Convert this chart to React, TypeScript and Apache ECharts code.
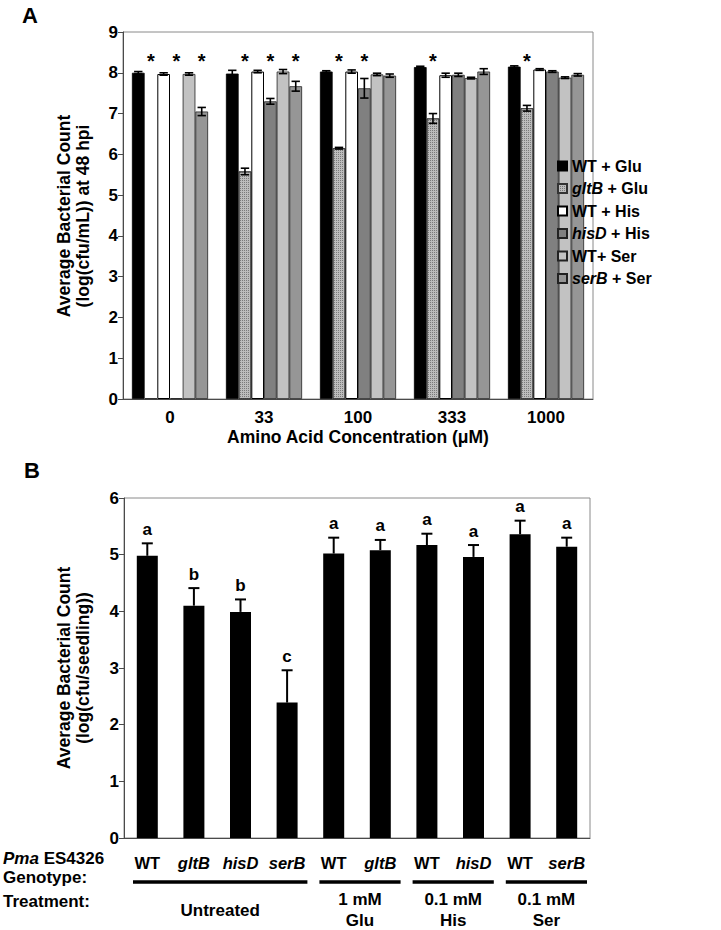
import React, { useEffect, useRef } from "react";
import * as echarts from "echarts";

const FONT = '"Liberation Sans", Arial, Helvetica, sans-serif';

// ---------- Panel A data ----------
const concentrations = ["0", "33", "100", "333", "1000"];
const seriesNamesA = ["WT + Glu", "gltB + Glu", "WT + His", "hisD + His", "WT+ Ser", "serB + Ser"];
const italicGenes = ["gltB", "hisD", "serB"];
const wtGlu = [8.0, 7.98, 8.03, 8.14, 8.15];
const gltBGlu = [0.02, 5.58, 6.15, 6.88, 7.13];
const wtHis = [7.97, 8.03, 8.03, 7.94, 8.08];
const hisDHis = [0.02, 7.3, 7.62, 7.95, 8.03];
const wtSer = [7.97, 8.03, 7.96, 7.87, 7.88];
const serBSer = [7.05, 7.67, 7.93, 8.03, 7.95];
const errWtGlu = [0.03, 0.08, 0.02, 0.02, 0.02];
const errGltBGlu = [0, 0.08, 0.02, 0.12, 0.07];
const errWtHis = [0.03, 0.03, 0.04, 0.05, 0.02];
const errHisDHis = [0, 0.07, 0.24, 0.04, 0.02];
const errWtSer = [0.03, 0.05, 0.03, 0.02, 0.02];
const errSerBSer = [0.1, 0.12, 0.04, 0.07, 0.03];
const sigWtGlu = [0, 0, 0, 0, 0];
const sigGltBGlu = [1, 1, 1, 1, 1];
const sigWtHis = [0, 0, 0, 0, 0];
const sigHisDHis = [1, 1, 1, 0, 0];
const sigWtSer = [0, 0, 0, 0, 0];
const sigSerBSer = [1, 1, 0, 0, 0];
const yTicksA = { min: 0, max: 9, interval: 1 };
const starLevel = 8.3;

// ---------- Panel B data ----------
const genotypes = ["WT", "gltB", "hisD", "serB", "WT", "gltB", "WT", "hisD", "WT", "serB"];
const countsB = [4.98, 4.1, 3.99, 2.39, 5.02, 5.08, 5.17, 4.96, 5.36, 5.14];
const errB = [0.22, 0.31, 0.22, 0.57, 0.28, 0.18, 0.2, 0.21, 0.24, 0.16];
const lettersB = ["a", "b", "b", "c", "a", "a", "a", "a", "a", "a"];
const treatmentLabels = ["Untreated", "1 mM\nGlu", "0.1 mM\nHis", "0.1 mM\nSer"];
const treatmentStart = [0, 4, 6, 8];
const treatmentEnd = [3, 5, 7, 9];
const yTicksB = { min: 0, max: 6, interval: 1 };

const valuesA = [wtGlu, gltBGlu, wtHis, hisDHis, wtSer, serBSer];
const errorsA = [errWtGlu, errGltBGlu, errWtHis, errHisDHis, errWtSer, errSerBSer];
const sigsA = [sigWtGlu, sigGltBGlu, sigWtHis, sigHisDHis, sigWtSer, sigSerBSer];

const GAP_A = 0.19;

const styleA: any[] = [
  { color: "#000000", borderColor: "#000000", borderWidth: 0.8 },
  {
    color: "#bcbcbc",
    borderColor: "#333333",
    borderWidth: 0.8,
    decal: {
      symbol: "rect",
      symbolSize: 1,
      dashArrayX: [1, 1],
      dashArrayY: [1, 1],
      color: "#7a7a7a",
      backgroundColor: "#cfcfcf",
    },
  },
  { color: "#ffffff", borderColor: "#000000", borderWidth: 1 },
  { color: "#808080", borderColor: "#222222", borderWidth: 0.8 },
  { color: "#c2c2c2", borderColor: "#222222", borderWidth: 0.8 },
  { color: "#969696", borderColor: "#222222", borderWidth: 0.8 },
];

function geneRich(name: string): string {
  for (const g of italicGenes) {
    if (name.startsWith(g)) return "{i|" + g + "}" + name.slice(g.length);
  }
  return name;
}

export default function App() {
  const ref = useRef<HTMLDivElement>(null);

  useEffect(() => {
    if (!ref.current) return;
    const chart = echarts.init(ref.current, undefined, { renderer: "svg" });

    const recordsA: any[] = [];
    valuesA.forEach((vals, s) => {
      vals.forEach((v, c) => {
        recordsA.push({ s, c, v, e: errorsA[s][c], sig: sigsA[s][c] });
      });
    });

    const axisLineStyle = { color: "#4a4a4a", width: 1 };
    const tickLabel = { fontSize: 17, fontWeight: "bold", color: "#000", fontFamily: FONT };

    const barSeriesA = seriesNamesA.map((name, s) => ({
      name,
      type: "bar",
      xAxisIndex: 0,
      yAxisIndex: 0,
      data: valuesA[s],
      barGap: "0%",
      barCategoryGap: GAP_A * 100 + "%",
      itemStyle: styleA[s],
      emphasis: { disabled: true },
    }));

    const option: any = {
      animation: false,
      backgroundColor: "#ffffff",
      textStyle: { fontFamily: FONT },
      grid: [
        { left: 123, top: 32, width: 470, height: 367, show: true, borderColor: "#8a8a8a", borderWidth: 1, backgroundColor: "transparent" },
        { left: 124, top: 498, width: 466, height: 340, show: true, borderColor: "#8a8a8a", borderWidth: 1, backgroundColor: "transparent" },
      ],
      legend: {
        data: seriesNamesA,
        orient: "vertical",
        left: 552,
        top: 153,
        itemWidth: 9,
        itemHeight: 9,
        itemGap: 6.5,
        icon: "rect",
        selectedMode: false,
        formatter: (n: string) => geneRich(n),
        textStyle: {
          fontSize: 16,
          fontWeight: "bold",
          color: "#000",
          fontFamily: FONT,
          rich: { i: { fontSize: 16, fontWeight: "bold", fontStyle: "italic", color: "#000", fontFamily: FONT } },
        },
      },
      xAxis: [
        {
          type: "category",
          gridIndex: 0,
          data: concentrations,
          axisLine: { lineStyle: axisLineStyle },
          axisTick: { length: 5, lineStyle: axisLineStyle },
          axisLabel: { ...tickLabel, margin: 10 },
          name: "Amino Acid Concentration (μM)",
          nameLocation: "middle",
          nameGap: 29,
          nameTextStyle: { fontSize: 17.5, fontWeight: "bold", color: "#000", fontFamily: FONT },
        },
        {
          type: "category",
          gridIndex: 1,
          data: genotypes,
          axisLine: { lineStyle: axisLineStyle },
          axisTick: { length: 5, lineStyle: axisLineStyle },
          axisLabel: {
            ...tickLabel,
            margin: 16,
            interval: 0,
            formatter: (v: string) => (italicGenes.includes(v) ? "{i|" + v + "}" : "{n|" + v + "}"),
            rich: {
              i: { fontSize: 16.5, fontWeight: "bold", fontStyle: "italic", color: "#000", fontFamily: FONT },
              n: { fontSize: 16.5, fontWeight: "bold", color: "#000", fontFamily: FONT },
            },
          },
        },
      ],
      yAxis: [
        {
          type: "value",
          gridIndex: 0,
          ...yTicksA,
          splitLine: { show: false },
          axisLine: { show: true, lineStyle: axisLineStyle },
          axisTick: { show: true, length: 5, lineStyle: axisLineStyle },
          axisLabel: { ...tickLabel, margin: 5 },
        },
        {
          type: "value",
          gridIndex: 1,
          ...yTicksB,
          splitLine: { show: false },
          axisLine: { show: true, lineStyle: axisLineStyle },
          axisTick: { show: true, length: 5, lineStyle: axisLineStyle },
          axisLabel: { ...tickLabel, margin: 5 },
        },
      ],
      series: [
        ...barSeriesA,
        {
          type: "custom",
          name: "errA",
          xAxisIndex: 0,
          yAxisIndex: 0,
          z: 5,
          data: recordsA.map((r) => [r.c, r.v]),
          encode: { x: 0, y: 1 },
          renderItem: (params: any, api: any) => {
            const r = recordsA[params.dataIndex];
            const center = api.coord([r.c, 0]);
            const band = api.size([1, 0])[0];
            const bw = (band * (1 - GAP_A)) / 6;
            const x = center[0] + (r.s - 2.5) * bw;
            const children: any[] = [];
            if (r.e > 0) {
              const yT = api.coord([r.c, r.v + r.e])[1];
              const yB = api.coord([r.c, r.v - r.e])[1];
              const hw = bw * 0.33;
              const st = { stroke: "#000", lineWidth: 1.6 };
              children.push({ type: "line", shape: { x1: x, y1: yT, x2: x, y2: yB }, style: st });
              children.push({ type: "line", shape: { x1: x - hw, y1: yT, x2: x + hw, y2: yT }, style: st });
              children.push({ type: "line", shape: { x1: x - hw, y1: yB, x2: x + hw, y2: yB }, style: st });
            }
            if (r.sig) {
              const y = api.coord([r.c, starLevel])[1];
              children.push({
                type: "text",
                x,
                y,
                style: { text: "*", fontSize: 20, fontWeight: "bold", fontFamily: FONT, fill: "#000", textAlign: "center", textVerticalAlign: "middle" },
              });
            }
            return { type: "group", children };
          },
        },
        {
          type: "bar",
          name: "countB",
          xAxisIndex: 1,
          yAxisIndex: 1,
          data: countsB,
          barWidth: 21,
          itemStyle: { color: "#000" },
          emphasis: { disabled: true },
        },
        {
          type: "custom",
          name: "errB",
          xAxisIndex: 1,
          yAxisIndex: 1,
          z: 5,
          data: countsB.map((v, i) => [i, v]),
          encode: { x: 0, y: 1 },
          renderItem: (params: any, api: any) => {
            const i = params.dataIndex;
            const v = countsB[i];
            const e = errB[i];
            const x = api.coord([i, 0])[0];
            const yV = api.coord([i, v])[1];
            const yT = api.coord([i, v + e])[1];
            const st = { stroke: "#000", lineWidth: 2 };
            return {
              type: "group",
              children: [
                { type: "line", shape: { x1: x, y1: yV, x2: x, y2: yT }, style: st },
                { type: "line", shape: { x1: x - 5.5, y1: yT, x2: x + 5.5, y2: yT }, style: st },
                {
                  type: "text",
                  x,
                  y: yT - 14,
                  style: { text: lettersB[i], fontSize: 17, fontWeight: "bold", fontFamily: FONT, fill: "#000", textAlign: "center", textVerticalAlign: "middle" },
                },
              ],
            };
          },
        },
      ],
    };

    chart.setOption(option);

    // Treatment annotations positioned through the axis scale
    const cx = (i: number) => chart.convertToPixel({ xAxisIndex: 1 } as any, i) as number;
    const band = cx(1) - cx(0);
    const lineY = 882;
    const titleStyle = {
      fontSize: 17.5,
      fontWeight: "bold",
      fontFamily: FONT,
      fill: "#000",
      textAlign: "center",
      textVerticalAlign: "middle",
      lineHeight: 19,
    };
    const graphics: any[] = [
      { type: "text", left: 22, top: 4, style: { text: "A", fontSize: 22, fontWeight: "bold", fontFamily: FONT, fill: "#000" } },
      { type: "text", left: 24, top: 459, style: { text: "B", fontSize: 22, fontWeight: "bold", fontFamily: FONT, fill: "#000" } },
      {
        type: "text",
        x: 73,
        y: 216,
        rotation: Math.PI / 2,
        style: { ...titleStyle, text: "Average Bacterial Count\n(log(cfu/mL)) at 48 hpi" },
      },
      {
        type: "text",
        x: 73,
        y: 668,
        rotation: Math.PI / 2,
        style: { ...titleStyle, text: "Average Bacterial Count\n(log(cfu/seedling))" },
      },
      {
        type: "text",
        x: 3,
        y: 858,
        style: {
          text: "{i|Pma} ES4326",
          fontSize: 17,
          fontWeight: "bold",
          fontFamily: FONT,
          fill: "#000",
          textVerticalAlign: "middle",
          rich: { i: { fontSize: 17, fontWeight: "bold", fontStyle: "italic", fontFamily: FONT, fill: "#000" } },
        },
      },
      { type: "text", x: 3, y: 877, style: { text: "Genotype:", fontSize: 17, fontWeight: "bold", fontFamily: FONT, fill: "#000", textVerticalAlign: "middle" } },
      { type: "text", x: 3, y: 901, style: { text: "Treatment:", fontSize: 17, fontWeight: "bold", fontFamily: FONT, fill: "#000", textVerticalAlign: "middle" } },
    ];
    treatmentLabels.forEach((lab, k) => {
      const x1 = cx(treatmentStart[k]) - band / 2 + 9;
      const x2 = cx(treatmentEnd[k]) + band / 2 - 3;
      graphics.push({ type: "line", shape: { x1, y1: lineY, x2, y2: lineY }, style: { stroke: "#000", lineWidth: 3.5 } });
      graphics.push({
        type: "text",
        x: (x1 + x2) / 2,
        y: 910,
        style: { text: lab, fontSize: 17, fontWeight: "bold", fontFamily: FONT, fill: "#000", textAlign: "center", textVerticalAlign: "middle", lineHeight: 21 },
      });
    });
    chart.setOption({ graphic: graphics });

    return () => chart.dispose();
  }, []);

  return <div ref={ref} style={{ position: "absolute", left: 0, top: 0, width: 721, height: 930 }} />;
}
